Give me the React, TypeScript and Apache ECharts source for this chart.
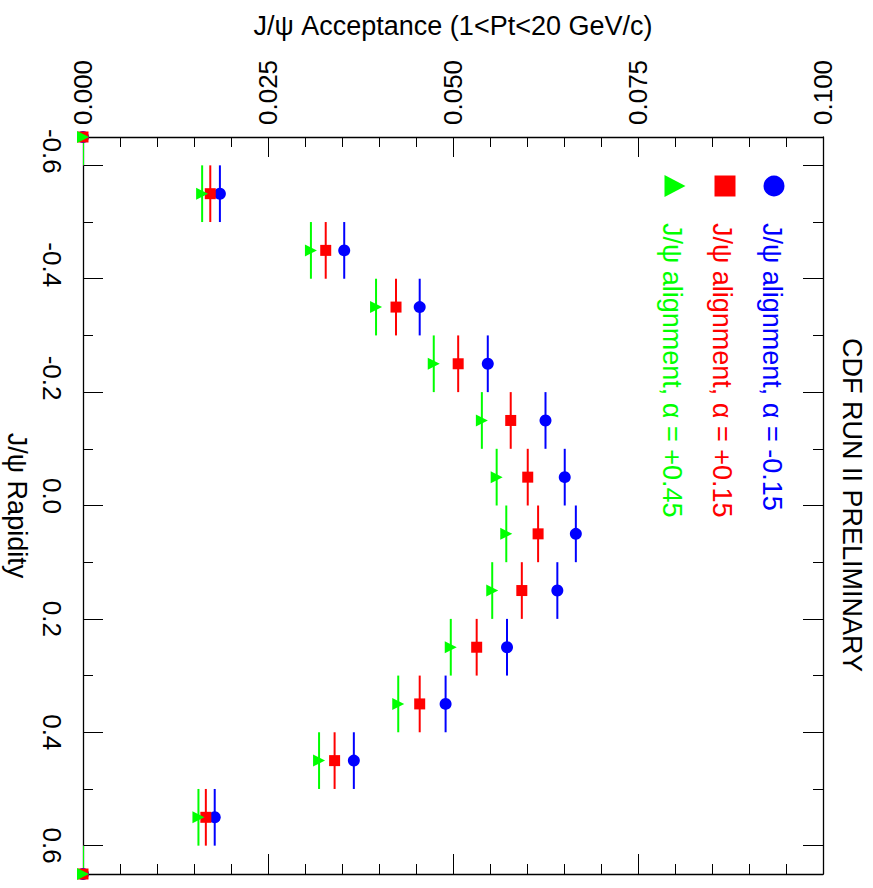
import React, { useEffect, useRef } from 'react';
import * as echarts from 'echarts';

// ---- data ----
const rapidity = [-0.65, -0.55, -0.45, -0.35, -0.25, -0.15, -0.05, 0.05, 0.15, 0.25, 0.35, 0.45, 0.55, 0.65];
const accAlphaM015 = [0, 0.0185, 0.0353, 0.0455, 0.0547, 0.0625, 0.0651, 0.0666, 0.0641, 0.0573, 0.049, 0.0366, 0.0178, 0];
const accAlphaP015 = [0, 0.0172, 0.0328, 0.0423, 0.0507, 0.0578, 0.0601, 0.0615, 0.0593, 0.0532, 0.0455, 0.034, 0.0166, 0];
const accAlphaP045 = [0, 0.0161, 0.0308, 0.0396, 0.0474, 0.0539, 0.0559, 0.0572, 0.0553, 0.0497, 0.0426, 0.0319, 0.0156, 0];
const binHalfWidth = 0.05;
const seriesNames = ['J/ψ alignment, α = -0.15', 'J/ψ alignment, α = +0.15', 'J/ψ alignment, α = +0.45'];
const rapidityMajorTicks = [-0.6, -0.4, -0.2, 0, 0.2, 0.4, 0.6];
const rapidityMinorTicks = [-0.5, -0.3, -0.1, 0.1, 0.3, 0.5];
const accMin = 0;
const accMax = 0.1;
const accInterval = 0.025;
const rapMin = -0.65;
const rapMax = 0.65;

const FONT = '"Liberation Sans", Arial, Helvetica, sans-serif';
const BLUE = '#0000ff';
const RED = '#ff0000';
const GREEN = '#00ff00';

export default function App() {
  const ref = useRef<HTMLDivElement>(null);
  useEffect(() => {
    if (!ref.current) return;
    const chart = echarts.init(ref.current, null, { renderer: 'svg' });

    const mk = (vals: number[]) => vals.map((v, i) => [v, rapidity[i]]);
    const errSeries = (vals: number[], color: string) => ({
      type: 'custom',
      xAxisIndex: 0,
      yAxisIndex: 0,
      clip: true,
      z: 3,
      data: mk(vals),
      renderItem: (params: any, api: any) => {
        const v = api.value(0);
        const y = api.value(1);
        const p1 = api.coord([v, y - binHalfWidth]);
        const p2 = api.coord([v, y + binHalfWidth]);
        return {
          type: 'line',
          shape: { x1: p1[0], y1: p1[1], x2: p2[0], y2: p2[1] },
          style: { stroke: color, lineWidth: 2 },
        };
      },
    });
    const ptSeries = (vals: number[], color: string, symbol: string, size: number, rot: number, name: string) => ({
      type: 'scatter',
      name,
      xAxisIndex: 0,
      yAxisIndex: 0,
      clip: false,
      z: 4,
      symbol,
      symbolSize: size,
      symbolRotate: rot,
      itemStyle: { color, opacity: 1 },
      data: mk(vals),
    });

    const tickLine = { color: '#000', width: 1 };
    const frameLine = { show: true, onZero: false, lineStyle: { color: '#000', width: 1.3 } };
    const noLine = { show: false, onZero: false };
    const yCommon = {
      type: 'value',
      min: rapMin,
      max: rapMax,
      inverse: true,
      splitLine: { show: false },
    };

    const textBase = { fontFamily: FONT, fontSize: 26, color: '#000' };
    const nameBase = { fontFamily: FONT, fontSize: 27, color: '#000' };

    chart.setOption({
      animation: false,
      backgroundColor: '#fff',
      grid: { left: 83, top: 137, right: 50, bottom: 14, containLabel: false, outerBoundsMode: 'none' },
      xAxis: [
        {
          type: 'value',
          position: 'top',
          min: accMin,
          max: accMax,
          interval: accInterval,
          axisLine: frameLine,
          axisTick: { show: true, inside: true, length: 20, lineStyle: tickLine },
          minorTick: { show: true, splitNumber: 5, length: 10, lineStyle: tickLine },
          splitLine: { show: false },
          minorSplitLine: { show: false },
          axisLabel: {
            show: true,
            rotate: -90,
            margin: 12,
            ...textBase,
            formatter: (v: number) => v.toFixed(3),
          },
          name: 'J/ψ Acceptance (1<Pt<20 GeV/c)',
          nameLocation: 'middle',
          nameGap: 98,
          nameTextStyle: { ...nameBase },
        },
        {
          type: 'value',
          position: 'bottom',
          min: accMin,
          max: accMax,
          interval: accInterval,
          axisLine: frameLine,
          axisTick: { show: true, inside: true, length: 20, lineStyle: tickLine },
          minorTick: { show: true, splitNumber: 5, length: 10, lineStyle: tickLine },
          splitLine: { show: false },
          axisLabel: { show: false },
        },
      ],
      yAxis: [
        {
          ...yCommon,
          position: 'left',
          axisLine: frameLine,
          axisTick: { show: true, inside: true, length: 20, customValues: rapidityMajorTicks, lineStyle: tickLine },
          axisLabel: {
            show: true,
            customValues: rapidityMajorTicks,
            rotate: -90,
            margin: 18,
            ...textBase,
            formatter: (v: number) => {
              const s = (Math.abs(v) < 1e-9 ? 0 : v).toFixed(1);
              if (v < -1e-9) return '{n|' + s + '}';
              if (Math.abs(v) < 1e-9) return '{z|' + s + '}';
              return '{p|' + s + '}';
            },
            rich: {
              n: { ...textBase, padding: [0, 28, 0, 0] },
              z: { ...textBase, padding: [0, 19, 0, 0] },
              p: { ...textBase },
            },
          },
          name: 'J/ψ Rapidity',
          nameLocation: 'middle',
          nameRotate: -90,
          nameGap: 53,
          nameTextStyle: { ...nameBase },
        },
        {
          ...yCommon,
          position: 'left',
          axisLine: noLine,
          axisTick: { show: true, inside: true, length: 10, customValues: rapidityMinorTicks, lineStyle: tickLine },
          axisLabel: { show: false },
        },
        {
          ...yCommon,
          position: 'right',
          axisLine: frameLine,
          axisTick: { show: true, inside: true, length: 20, customValues: rapidityMajorTicks, lineStyle: tickLine },
          axisLabel: { show: false },
        },
        {
          ...yCommon,
          position: 'right',
          axisLine: noLine,
          axisTick: { show: true, inside: true, length: 10, customValues: rapidityMinorTicks, lineStyle: tickLine },
          axisLabel: { show: false },
        },
      ],
      graphic: [
        {
          type: 'text',
          x: 852,
          y: 505,
          rotation: -Math.PI / 2,
          style: {
            text: 'CDF RUN II PRELIMINARY',
            fill: '#000',
            fontFamily: FONT,
            fontSize: 27,
            align: 'center',
            verticalAlign: 'middle',
          },
        },
        { type: 'circle', shape: { cx: 774, cy: 186, r: 10.5 }, style: { fill: BLUE } },
        { type: 'rect', shape: { x: 714.5, y: 175.5, width: 21, height: 21 }, style: { fill: RED } },
        {
          type: 'polygon',
          shape: { points: [[664.5, 175], [685.5, 186], [664.5, 197]] },
          style: { fill: GREEN },
        },
        ...[
          { x: 772, c: BLUE, t: seriesNames[0] },
          { x: 722, c: RED, t: seriesNames[1] },
          { x: 672, c: GREEN, t: seriesNames[2] },
        ].map((d) => ({
          type: 'text',
          x: d.x,
          y: 223,
          rotation: -Math.PI / 2,
          style: {
            text: d.t,
            fill: d.c,
            fontFamily: FONT,
            fontSize: 27,
            align: 'left',
            verticalAlign: 'middle',
          },
        })),
      ],
      series: [
        errSeries(accAlphaM015, BLUE),
        errSeries(accAlphaP015, RED),
        errSeries(accAlphaP045, GREEN),
        ptSeries(accAlphaM015, BLUE, 'circle', 12, 0, seriesNames[0]),
        ptSeries(accAlphaP015, RED, 'rect', 11, 0, seriesNames[1]),
        ptSeries(accAlphaP045, GREEN, 'triangle', 12, -90, seriesNames[2]),
      ],
    });
    return () => chart.dispose();
  }, []);
  return (
    <div
      ref={ref}
      style={{ position: 'fixed', left: 0, top: 0, width: 873, height: 888, background: '#fff' }}
    />
  );
}
